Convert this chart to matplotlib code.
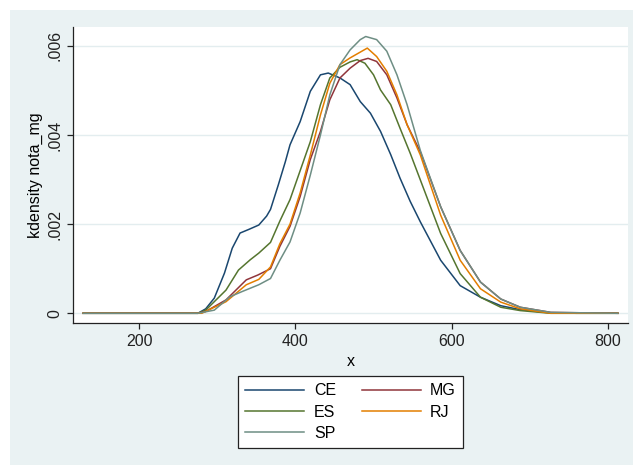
import numpy as np
import matplotlib.pyplot as plt
from matplotlib.patches import Rectangle

plt.rcParams['font.family'] = ['Liberation Sans', 'DejaVu Sans']

# kdensity curves (x, density)
ce_x = [128, 200, 275, 285, 296, 309, 319, 329, 340, 353, 363, 368, 378, 387, 393, 406, 419,
        432, 442, 457, 470, 483, 496, 509, 522, 534, 547, 560, 586, 611, 637, 663, 688, 727,
        760, 813]
ce_y = [0, 0, 0, .0001, .00034, .0009, .00146, .0018, .00188, .00198, .00218, .00233, .00288,
        .0034, .00378, .0043, .00498, .00535, .00539, .00528, .00513, .00475, .00449, .00408,
        .00356, .00303, .00251, .00205, .00119, .00062, .00036, .00017, .00008, .00001, 0, 0]

mg_x = [128, 200, 275, 285, 311, 337, 352, 368, 380, 393, 406, 419, 432, 444, 457, 470, 483,
        493, 504, 517, 530, 543, 560, 586, 611, 637, 663, 688, 727, 813]
mg_y = [0, 0, 0, .00004, .0003, .00075, .00086, .001, .0015, .00195, .00262, .00345, .00408,
        .00479, .00528, .0055, .00567, .00572, .00565, .00535, .00483, .00423, .00362, .00239,
        .00141, .0007, .00032, .000135, .00002, 0]

es_x = [128, 200, 275, 285, 311, 327, 342, 353, 368, 380, 393, 406, 419, 432, 444, 457, 470,
        479, 489, 500, 509, 522, 534, 547, 560, 586, 611, 637, 663, 688, 727, 813]
es_y = [0, 0, 0, .00007, .00052, .00097, .0012, .00135, .00159, .00207, .00255, .0032, .00385,
        .00468, .00528, .00552, .00564, .00569, .00561, .00535, .00501, .00468, .00415, .00359,
        .00299, .00179, .00089, .00036, .000135, .00006, 0, 0]

rj_x = [128, 200, 280, 311, 337, 353, 368, 380, 393, 406, 419, 432, 444, 457, 470, 479, 492,
        504, 517, 530, 543, 560, 586, 611, 637, 663, 688, 727, 813]
rj_y = [0, 0, 0, .00026, .00064, .00076, .00104, .00156, .002, .0027, .00355, .00445, .00516,
        .00558, .00573, .00582, .00595, .00576, .00543, .0049, .00423, .00355, .0022, .00119,
        .00055, .00025, .0001, 0, 0]

sp_x = [128, 200, 275, 296, 316, 332, 353, 368, 380, 393, 406, 419, 432, 444, 457, 470, 483,
        490, 504, 517, 530, 543, 560, 586, 611, 637, 663, 688, 727, 813]
sp_y = [0, 0, 0, .00007, .00037, .00049, .00064, .00078, .00119, .0016, .00225, .0031, .004,
        .0049, .00558, .00591, .00614, .00621, .00614, .00588, .00535, .00468, .00365, .00239,
        .00141, .0007, .00032, .000135, .00002, 0]

series = [('CE', ce_x, ce_y, '#1a476f'),
          ('ES', es_x, es_y, '#55752f'),
          ('SP', sp_x, sp_y, '#6e8e84'),
          ('MG', mg_x, mg_y, '#90353b'),
          ('RJ', rj_x, rj_y, '#e37e00')]

W, H = 633, 465
fig = plt.figure(figsize=(W / 100, H / 100), dpi=100, facecolor='white')
fig.patches.append(Rectangle((10 / W, 0), 1, (H - 10) / H, transform=fig.transFigure,
                             facecolor='#eaf2f3', edgecolor='none', zorder=-10))

ax = fig.add_axes([72.7 / W, 1 - 323.3 / H, (628 - 72.7) / W, (323.3 - 26.7) / H])
ax.set_zorder(1)
ax.set_facecolor('white')

# draw order so SP ends up on top like in the picture
for name in ['CE', 'ES', 'MG', 'RJ', 'SP']:
    for n, xs, ys, c in series:
        if n == name:
            ax.plot(xs, ys, color=c, lw=1.1, label=n, zorder=3,
                    solid_joinstyle='round')

ax.set_xlim(114.6, 826)
ax.set_ylim(-0.000225, 0.00643)
ax.set_xticks([200, 400, 600, 800])
ax.set_yticks([0, .002, .004, .006])
ax.set_yticklabels(['0', '.002', '.004', '.006'], rotation=90, va='center')
ax.yaxis.grid(True, color='#e3edef', lw=1.0, zorder=0)
ax.set_axisbelow(True)
for s in ['top', 'right']:
    ax.spines[s].set_visible(False)
for s in ['left', 'bottom']:
    ax.spines[s].set_color('#222222')
    ax.spines[s].set_linewidth(0.9)
ax.tick_params(axis='both', labelsize=11.5, colors='#222222', length=4.5, width=0.9)
ax.tick_params(axis='y', pad=3)
ax.set_xlabel('x', fontsize=11.5, labelpad=3)
ax.set_ylabel('kdensity nota_mg', fontsize=11.5, labelpad=3)

handles, labels = ax.get_legend_handles_labels()
order = ['CE', 'ES', 'SP', 'MG', 'RJ']
hmap = dict(zip(labels, handles))
leg = fig.legend([hmap[k] for k in order], order, loc='upper left',
                 bbox_to_anchor=(238 / W, 1 - 376 / H), bbox_transform=fig.transFigure,
                 ncol=2, fontsize=11.5, frameon=True, fancybox=False, edgecolor='#222222',
                 framealpha=1, handlelength=3.7, handletextpad=0.6, columnspacing=1.6,
                 labelspacing=0.4, borderpad=0.45, borderaxespad=0)
leg.get_frame().set_linewidth(0.9)

fig.savefig('out.png', dpi=100, facecolor=fig.get_facecolor())
